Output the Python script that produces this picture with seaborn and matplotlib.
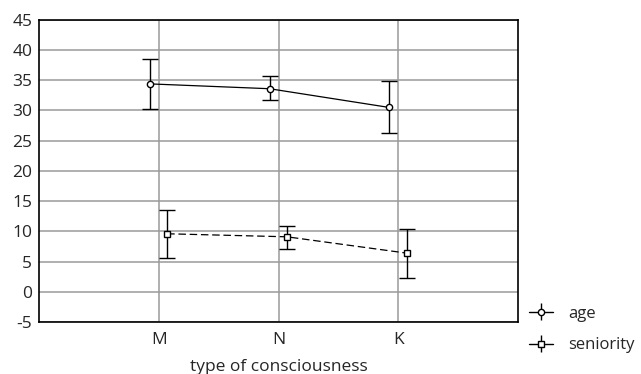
import numpy as np
import pandas as pd
import matplotlib
matplotlib.use("Agg")
import matplotlib.pyplot as plt
import seaborn as sns

categories = ["M", "N", "K"]
age_mean = [34.4, 33.6, 30.5]
age_low = [30.3, 31.7, 26.2]
age_high = [38.5, 35.7, 34.9]
seniority_mean = [9.6, 9.1, 6.4]
seniority_low = [5.6, 7.1, 2.2]
seniority_high = [13.5, 10.9, 10.4]


def build_frame():
    pos = np.arange(len(categories))
    age = pd.DataFrame({"pos": pos - 0.075, "value": age_mean,
                        "low": age_low, "high": age_high, "series": "age"})
    sen = pd.DataFrame({"pos": pos + 0.07, "value": seniority_mean,
                        "low": seniority_low, "high": seniority_high, "series": "seniority"})
    return pd.concat([age, sen], ignore_index=True)


def main():
    sns.set_style("white")
    plt.rcParams["font.family"] = ["Open Sans", "DejaVu Sans"]
    plt.rcParams["axes.unicode_minus"] = False
    df = build_frame()

    fig = plt.figure(figsize=(6.41, 3.74), dpi=100)
    ax = fig.add_axes([0.061, 0.139, 0.747, 0.808])

    sns.lineplot(data=df, x="pos", y="value", hue="series", style="series",
                 palette=["black", "black"], dashes=[(1, 0), (6, 3)],
                 markers=["o", "s"], markersize=4.5, markerfacecolor="white",
                 markeredgecolor="black", markeredgewidth=1, linewidth=0.9,
                 ax=ax, legend=False, zorder=3)

    handles = []
    for name, marker in [("age", "o"), ("seniority", "s")]:
        sub = df[df["series"] == name]
        err = [sub["value"] - sub["low"], sub["high"] - sub["value"]]
        ax.errorbar(sub["pos"], sub["value"], yerr=err, fmt="none",
                    ecolor="black", elinewidth=1, capsize=6, capthick=1, zorder=2)
        handles.append(ax.errorbar([], [], yerr=[], fmt=marker, ms=4.5, mfc="white",
                                   mec="black", mew=1, color="black", ls="-",
                                   lw=1, ecolor="black", elinewidth=1,
                                   capsize=6, capthick=1, label=name))

    ax.set_xlim(-1, 3)
    ax.set_ylim(-5, 45)
    ax.set_xticks(range(len(categories)))
    ax.set_xticklabels(categories)
    ax.set_yticks(range(-5, 46, 5))
    ax.grid(True, color="#9a9a9a", linewidth=1.1)
    ax.set_axisbelow(True)
    for s in ax.spines.values():
        s.set_color("black")
        s.set_linewidth(1.2)
    ax.tick_params(axis="y", labelsize=12.5, length=0, pad=5)
    ax.tick_params(axis="x", labelsize=12.5, length=0, pad=7)
    ax.set_xlabel("type of consciousness", fontsize=12.5, labelpad=8)
    ax.set_ylabel("")

    fig.legend(handles=handles, labels=["age", "seniority"], loc="lower left",
               bbox_to_anchor=(0.826, 0.055), frameon=False, fontsize=12,
               borderpad=0, borderaxespad=0,
               handlelength=1.4, handletextpad=0.9, labelspacing=0.95)

    fig.savefig("out.png", dpi=100)


if __name__ == "__main__":
    main()
